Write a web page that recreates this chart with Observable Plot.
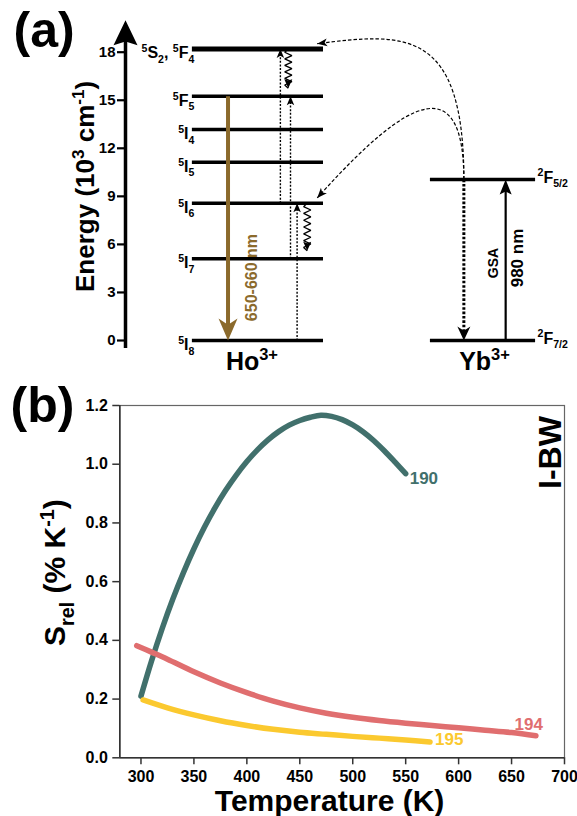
<!DOCTYPE html>
<html><head><meta charset="utf-8">
<script src="https://cdn.jsdelivr.net/npm/d3@7"></script>
<script src="https://cdn.jsdelivr.net/npm/@observablehq/plot@0.6"></script>
<style>
html,body{margin:0;padding:0;background:#fff;}
#chart{width:577px;}
#chart svg{display:block;overflow:visible;}
</style></head><body><div id="chart"></div>
<script>
// ---------------- Panel (a) data: energy levels (10^3 cm^-1) ----------------
const hoLevelNames = ["^5S_2, ^5F_4", "^5F_5", "^5I_4", "^5I_5", "^5I_6", "^5I_7", "^5I_8"];
const hoLevelEnergies = [18.2, 15.25, 13.17, 11.13, 8.57, 5.1, 0];
const ybLevelNames = ["^2F_{5/2}", "^2F_{7/2}"];
const ybLevelEnergies = [10.05, 0];
const energyTicks = [0, 3, 6, 9, 12, 15, 18];
const energyAxisTop = 20;
const ionNames = ["Ho^{3+}", "Yb^{3+}"];
// transitions
const hoExcitationFrom = ["^5I_8", "^5I_7", "^5I_6"];
const hoExcitationTo = ["^5I_6", "^5F_5", "^5S_2, ^5F_4"];
const hoRelaxFrom = ["^5S_2, ^5F_4", "^5I_6"];
const hoRelaxTo = ["^5F_5", "^5I_7"];
const emissionFrom = "^5F_5", emissionTo = "^5I_8", emissionLabel = "650-660 nm";
const ybAbsorptionLabels = ["GSA", "980 nm"];
const transferTo = ["^5S_2, ^5F_4", "^5I_6"];

// ---------------- Panel (b) data: S_rel vs temperature ----------------
const tempTicks = [300, 350, 400, 450, 500, 550, 600, 650, 700];
const srelTicks = [0, 0.2, 0.4, 0.6, 0.8, 1.0, 1.2];
const s190T = [300, 310, 320, 330, 340, 350, 360, 370, 380, 390, 400, 410, 420, 430, 440, 450, 460, 470, 480, 490, 500, 510, 520, 530, 540, 550];
const s190S = [0.21, 0.33, 0.44, 0.54, 0.63, 0.712, 0.786, 0.852, 0.911, 0.963, 1.009, 1.049, 1.083, 1.111, 1.133, 1.149, 1.16, 1.167, 1.163, 1.152, 1.134, 1.11, 1.08, 1.045, 1.007, 0.968];
const s194T = [296, 310, 325, 350, 375, 400, 425, 450, 475, 500, 525, 550, 575, 600, 625, 650, 673];
const s194S = [0.382, 0.36, 0.336, 0.293, 0.255, 0.222, 0.193, 0.17, 0.152, 0.138, 0.127, 0.118, 0.11, 0.102, 0.094, 0.086, 0.075];
const s195T = [302, 325, 350, 375, 400, 425, 450, 475, 500, 525, 550, 573];
const s195S = [0.197, 0.17, 0.146, 0.126, 0.11, 0.097, 0.087, 0.08, 0.073, 0.067, 0.061, 0.054];
const seriesIds = ["190", "194", "195"];

// ---------------- Layout / style (not data) ----------------
const FONT = "Arial, 'Liberation Sans', Helvetica, sans-serif";
const seriesColors = ["#41706c", "#e06e6f", "#fbc92f"];
const BROWN = "#8b6a2c";
const L = {
  hoSpan: [1.52, 4.5], ybSpan: [6.93, 9.32],
  excitationX: [3.9, 3.75, 3.52],
  relaxX: [3.7, 4.13], relaxGap: 0.5,
  emissionX: 2.33, emissionLabelX: 2.88, emissionLabelE: 3.93,
  ybDownX: 7.69, ybUpX: 8.64, gsaX: 8.375, gsaE: 4.84, nmX: 8.9, nmE: 5.15,
  etStartX: 7.69, etEndX: 4.357, etEndLift: 0.33
};

// ---------------- helpers ----------------
function head(angle, len, width, notch = 0.25) {
  const a = angle * Math.PI / 180, c = Math.cos(a), s = Math.sin(a);
  const pts = [[0, 0], [-len, -width / 2], [-len * (1 - notch), 0], [-len, width / 2]];
  return {draw(ctx) {
    pts.forEach(([px, py], i) => {
      const X = px * c - py * s, Y = px * s + py * c;
      if (i) ctx.lineTo(X, Y); else ctx.moveTo(X, Y);
    });
    ctx.closePath();
  }};
}
function zigzag(amp, period) {
  return (context) => {
    let pts = [];
    return {
      areaStart() {}, areaEnd() {},
      lineStart() { pts = []; },
      point(x, y) { pts.push([+x, +y]); },
      lineEnd() {
        if (pts.length < 2) return;
        const [x0, y0] = pts[0], [x1, y1] = pts[pts.length - 1];
        const len = Math.hypot(x1 - x0, y1 - y0), ux = (x1 - x0) / len, uy = (y1 - y0) / len;
        const nx = -uy, ny = ux, n = Math.max(2, Math.round(len / period));
        context.moveTo(x0, y0);
        for (let i = 1; i < n; i++) {
          const t = i / n * len, sg = i % 2 ? 1 : -1;
          context.lineTo(x0 + ux * t + nx * amp * sg, y0 + uy * t + ny * amp * sg);
        }
        context.lineTo(x1, y1);
      }
    };
  };
}
function transferCurve(k1, endAngle, k2) {
  const a = endAngle * Math.PI / 180, dx = Math.cos(a), dy = Math.sin(a);
  return (context) => {
    let pts = [];
    return {
      areaStart() {}, areaEnd() {},
      lineStart() { pts = []; },
      point(x, y) { pts.push([+x, +y]); },
      lineEnd() {
        if (pts.length < 2) return;
        const [x0, y0] = pts[0], [x1, y1] = pts[pts.length - 1];
        context.moveTo(x0, y0);
        context.bezierCurveTo(x0, y0 - k1, x1 - dx * k2, y1 - dy * k2, x1, y1);
      }
    };
  };
}
function richText(root) {
  root.querySelectorAll("text").forEach(t => {
    if (t.querySelector("tspan")) return;
    const s = t.textContent;
    if (!/[\^_]/.test(s)) return;
    const base = parseFloat(getComputedStyle(t).fontSize) || 14;
    const ratio = 0.66;
    const segs = [];
    let i = 0, buf = "";
    while (i < s.length) {
      const ch = s[i];
      if (ch === "^" || ch === "_") {
        if (buf) { segs.push({t: buf, k: 0}); buf = ""; }
        let content;
        if (s[i + 1] === "{") { const j = s.indexOf("}", i + 2); content = s.slice(i + 2, j); i = j + 1; }
        else { content = s[i + 1]; i += 2; }
        segs.push({t: content, k: ch === "^" ? 1 : -1});
      } else { buf += ch; i++; }
    }
    if (buf) segs.push({t: buf, k: 0});
    let dy0 = 0;
    const d = t.getAttribute("dy");
    if (d) { dy0 = d.endsWith("em") ? parseFloat(d) * base : parseFloat(d); t.removeAttribute("dy"); }
    t.textContent = "";
    let cur = -dy0;
    segs.forEach(seg => {
      const sp = document.createElementNS("http://www.w3.org/2000/svg", "tspan");
      const target = seg.k === 1 ? -0.38 * base : seg.k === -1 ? 0.3 * base : 0;
      sp.setAttribute("dy", (target - cur).toFixed(2));
      cur = target;
      if (seg.k) sp.setAttribute("font-size", (ratio * base).toFixed(2));
      sp.textContent = seg.t;
      t.appendChild(sp);
    });
  });
}

// ---------------- Panel (a) tables ----------------
const E = {};
hoLevelNames.forEach((n, i) => E[n] = hoLevelEnergies[i]);
ybLevelNames.forEach((n, i) => E[n] = ybLevelEnergies[i]);
const hoRows = hoLevelNames.map((name, i) => ({name, E: hoLevelEnergies[i], i}));
const ybRows = ybLevelNames.map((name, i) => ({name, E: ybLevelEnergies[i]}));
const excRows = hoExcitationFrom.map((f, i) => ({x: L.excitationX[i], y1: E[f], y2: E[hoExcitationTo[i]]}));
const relaxRows = hoRelaxFrom.map((f, i) => ({x: L.relaxX[i], y1: E[f], y2: E[hoRelaxTo[i]] + L.relaxGap}));
const emisRows = [{x: L.emissionX, y1: E[emissionFrom], y2: E[emissionTo]}];
const ybUpRows = [{x: L.ybUpX, y1: ybLevelEnergies[1], y2: ybLevelEnergies[0]}];
const ybDownRows = [{x: L.ybDownX, y1: ybLevelEnergies[0], y2: ybLevelEnergies[1]}];
const etRows = transferTo.map(t => ({x1: L.etStartX, y1: ybLevelEnergies[0], x2: L.etEndX, y2: E[t] + L.etEndLift}));

const plotA = Plot.plot({
  width: 577, height: 375,
  marginLeft: 125, marginRight: 12, marginTop: 51.7, marginBottom: 35,
  style: {fontFamily: FONT, background: "none", overflow: "visible", color: "#000"},
  x: {domain: [0, 10], axis: null},
  y: {domain: [0, 18], axis: null},
  marks: [
    // energy axis with arrow
    Plot.ruleX([0], {y1: -0.5, y2: energyAxisTop - 1, strokeWidth: 3.5, stroke: "#000"}),
    Plot.dot([energyAxisTop], {x: 0, y: d => d, symbol: head(-90, 25, 24, 0.15), fill: "#000", stroke: "none"}),
    Plot.axisY(energyTicks, {tickSize: 8, tickPadding: 2, fontSize: 15, fontWeight: "bold", strokeWidth: 2.2, label: null}),
    Plot.text(["Energy (10^3 cm^{-1})"], {frameAnchor: "left", textAnchor: "middle", dx: -40, dy: -10, rotate: -90, fontSize: 26, fontWeight: "bold"}),
    // levels
    Plot.ruleY(hoRows, {y: "E", x1: L.hoSpan[0], x2: L.hoSpan[1], strokeWidth: d => d.i === 0 ? 5 : 3.4, stroke: "#000"}),
    Plot.ruleY(ybRows, {y: "E", x1: L.ybSpan[0], x2: L.ybSpan[1], strokeWidth: 3.4, stroke: "#000"}),
    Plot.text(hoRows, {x: L.hoSpan[0], y: "E", text: "name", textAnchor: "end", lineAnchor: "top", dx: 2, dy: -2, fontSize: 16, fontWeight: "bold"}),
    Plot.text(ybRows, {x: L.ybSpan[1], y: "E", text: "name", textAnchor: "start", lineAnchor: "bottom", dx: 2, dy: 3, fontSize: 16, fontWeight: "bold"}),
    Plot.text([ionNames[0]], {x: (L.hoSpan[0] + L.hoSpan[1]) / 2, y: 0, dx: -6, lineAnchor: "bottom", dy: 29, fontSize: 25, fontWeight: "bold"}),
    Plot.text([ionNames[1]], {x: (L.ybSpan[0] + L.ybSpan[1]) / 2, y: 0, dx: 1.5, lineAnchor: "bottom", dy: 29, fontSize: 25, fontWeight: "bold"}),
    // 650-660 nm emission
    Plot.arrow(emisRows, {x1: "x", x2: "x", y1: "y1", y2: "y2", headLength: 0, insetEnd: 12, stroke: BROWN, strokeWidth: 4, strokeLinecap: "butt"}),
    Plot.dot(emisRows, {x: "x", y: "y2", symbol: head(90, 22, 19, 0.28), fill: BROWN, stroke: "none"}),
    Plot.text([emissionLabel], {x: L.emissionLabelX, y: L.emissionLabelE, rotate: -90, fill: BROWN, fontSize: 16, fontWeight: "bold"}),
    // excitation (dotted) arrows
    Plot.arrow(excRows, {x1: "x", x2: "x", y1: "y1", y2: "y2", headLength: 0, insetEnd: 4, stroke: "#000", strokeWidth: 1.4, strokeDasharray: "2,1.6", strokeLinecap: "butt"}),
    Plot.dot(excRows, {x: "x", y: "y2", symbol: head(-90, 9, 7.5, 0.25), fill: "#000", stroke: "none"}),
    // non-radiative (wavy) relaxation
    Plot.link(relaxRows, {x1: "x", x2: "x", y1: "y1", y2: "y2", curve: zigzag(3.6, 3.4), stroke: "#000", strokeWidth: 1.3}),
    Plot.dot(relaxRows, {x: "x", y: "y2", symbol: head(90, 9, 8, 0.15), fill: "#000", stroke: "none"}),
    // Yb3+ absorption (solid) and relaxation (dotted)
    Plot.arrow(ybUpRows, {x1: "x", x2: "x", y1: "y1", y2: "y2", headLength: 0, insetEnd: 8, stroke: "#000", strokeWidth: 2.2, strokeLinecap: "butt"}),
    Plot.dot(ybUpRows, {x: "x", y: "y2", symbol: head(-90, 15, 12, 0.2), fill: "#000", stroke: "none"}),
    Plot.arrow(ybDownRows, {x1: "x", x2: "x", y1: "y1", y2: "y2", headLength: 0, insetEnd: 8, stroke: "#000", strokeWidth: 3, strokeDasharray: "2.6,1.8", strokeLinecap: "butt"}),
    Plot.dot(ybDownRows, {x: "x", y: "y2", symbol: head(90, 14, 13, 0.3), fill: "#000", stroke: "none"}),
    Plot.text([ybAbsorptionLabels[0]], {x: L.gsaX, y: L.gsaE, rotate: -90, fontSize: 14, fontWeight: "bold"}),
    Plot.text([ybAbsorptionLabels[1]], {x: L.nmX, y: L.nmE, rotate: -90, fontSize: 17, fontWeight: "bold"}),
    // energy transfer (dashed curved) arrows
    Plot.link([etRows[0]], {x1: "x1", y1: "y1", x2: "x2", y2: "y2", curve: transferCurve(150, 172.5, 90), stroke: "#000", strokeWidth: 1.2, strokeDasharray: "3.5,2"}),
    Plot.dot([etRows[0]], {x: "x2", y: "y2", symbol: head(172.5, 10, 8, 0.25), fill: "#000", stroke: "none"}),
    Plot.link([etRows[1]], {x1: "x1", y1: "y1", x2: "x2", y2: "y2", curve: transferCurve(130, 132, 100), stroke: "#000", strokeWidth: 1.2, strokeDasharray: "3.5,2"}),
    Plot.dot([etRows[1]], {x: "x2", y: "y2", symbol: head(132, 10, 8, 0.25), fill: "#000", stroke: "none"}),
    // panel label
    Plot.text(["(a)"], {frameAnchor: "top-left", textAnchor: "start", lineAnchor: "bottom", dx: -112, dy: -5, fontSize: 50, fontWeight: "bold"})
  ]
});

// ---------------- Panel (b) ----------------
const seriesT = [s190T, s194T, s195T], seriesS = [s190S, s194S, s195S];
const srelRows = [];
seriesIds.forEach((id, k) => seriesT[k].forEach((T, i) => srelRows.push({id, T, S: seriesS[k][i]})));
const xDomain = [280, 700], yDomain = [0, 1.2];
const endLabel = (id, opts) => Plot.text(srelRows, Plot.selectLast({
  filter: d => d.id === id, x: "T", y: "S", z: "id", text: "id", fill: "id",
  fontSize: 17, fontWeight: "bold", ...opts
}));

const plotB = Plot.plot({
  width: 577, height: 441,
  marginLeft: 119.3, marginRight: 13, marginTop: 30, marginBottom: 58.7,
  style: {fontFamily: FONT, background: "none", overflow: "visible", color: "#000"},
  x: {domain: xDomain, axis: null},
  y: {domain: yDomain, axis: null},
  color: {domain: seriesIds, range: seriesColors},
  marks: [
    Plot.frame({stroke: "#666", strokeWidth: 1.2}),
    Plot.ruleX([xDomain[0]], {stroke: "#333", strokeWidth: 1.6}),
    Plot.ruleY([yDomain[0]], {stroke: "#333", strokeWidth: 1.6}),
    Plot.axisX(tempTicks, {tickSize: 7, tickPadding: 6, fontSize: 16, fontWeight: "bold", strokeWidth: 1.5, stroke: "#333", label: null}),
    Plot.axisY(srelTicks, {tickSize: 7, tickPadding: 5, fontSize: 16, fontWeight: "bold", strokeWidth: 1.5, stroke: "#333", tickFormat: d3.format(".1f"), label: null}),
    Plot.line(srelRows, {x: "T", y: "S", z: "id", stroke: "id", curve: "catmull-rom", strokeWidth: 5.5, strokeLinecap: "round", strokeLinejoin: "round"}),
    endLabel("190", {textAnchor: "start", dx: 4, dy: 5}),
    endLabel("194", {textAnchor: "end", dx: 7, dy: -11}),
    endLabel("195", {textAnchor: "start", dx: 5, dy: -2}),
    Plot.text(["Temperature (K)"], {frameAnchor: "bottom", lineAnchor: "bottom", dx: -12.6, dy: 53.4, fontSize: 30, fontWeight: "bold"}),
    Plot.text(["S_{rel} (% K^{-1})"], {frameAnchor: "left", textAnchor: "middle", rotate: -90, dx: -64, dy: -9, fontSize: 30, fontWeight: "bold"}),
    Plot.text(["I-BW"], {frameAnchor: "top-right", textAnchor: "middle", rotate: -90, dx: -26, dy: 47, fontSize: 32, fontWeight: "bold"}),
    Plot.text(["(b)"], {frameAnchor: "top-left", textAnchor: "start", lineAnchor: "bottom", dx: -109.3, dy: 16.5, fontSize: 50, fontWeight: "bold"})
  ]
});

const chart = document.getElementById("chart");
chart.appendChild(plotA);
chart.appendChild(plotB);
richText(plotA);
richText(plotB);
</script></body></html>
